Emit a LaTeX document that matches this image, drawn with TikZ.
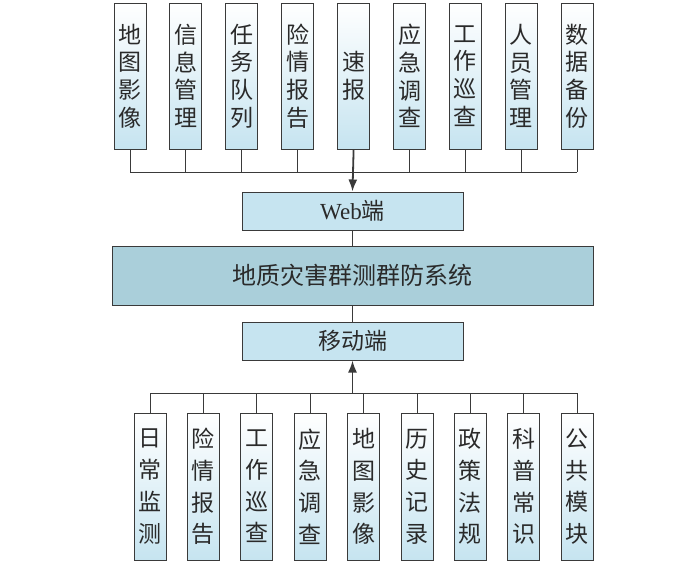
\documentclass[tikz,border=0pt]{standalone}
\usepackage{fontspec}
\setmainfont{Liberation Serif}
\newfontfamily\cjk{Noto Sans CJK SC}
\usetikzlibrary{arrows.meta,positioning}
\definecolor{boxblue}{HTML}{C6E4F0}
\definecolor{mainblue}{HTML}{AACFDA}
\definecolor{edgegray}{HTML}{3A3A3A}
\definecolor{textgray}{HTML}{2A2A2A}

\begin{document}
\begin{tikzpicture}[x=1pt,y=-1pt,
      mycol/.style={
         draw=edgegray,
         line width=1pt,
         top color=white,
         bottom color=boxblue,
         inner sep=0pt,
         minimum width=32pt,
         align=center,
         text=textgray},
      topcol/.style={mycol,
         minimum height=146pt,
         font=\cjk\fontsize{23}{27.7}\selectfont},
      botcol/.style={mycol,
         minimum height=147pt,
         font=\cjk\fontsize{23}{31.7}\selectfont},
      mybox/.style={
         draw=edgegray,
         line width=1pt,
         fill=boxblue,
         inner sep=0pt,
         minimum width=221pt,
         minimum height=38pt,
         text=textgray,
         font=\fontsize{23}{28}\selectfont},
      mainbox/.style={mybox,
         fill=mainblue,
         minimum width=481pt,
         minimum height=59pt,
         font=\cjk\fontsize{24}{28}\selectfont},
      myline/.style={draw=edgegray, line width=0.9pt},
      myarrow/.style={myline, line width=1.8pt, -{Latex[length=12pt,width=9pt]}}
      ]
      \useasboundingbox (0,0) rectangle (700,563);

      % middle
      \node[mybox] (web) at (352.5,211) {Web\cjk 端};
      \node[mainbox] (sys) at (352.5,275.5) {地质灾害群测群防系统};
      \node[mybox] (mob) at (352.5,341) {\cjk 移动端};
      \draw[myline] (web) -- (sys);
      \draw[myline] (sys) -- (mob);

      % web modules
      \coordinate (tbus) at (0,172);
      \foreach \txt [count=\n] in {地\\图\\影\\像, 信\\息\\管\\理, 任\\务\\队\\列,
         险\\情\\报\\告, 速\\报, 应\\急\\调\\查, 工\\作\\巡\\查, 人\\员\\管\\理, 数\\据\\备\\份}
      {
         \node[topcol] (t\n) at ({130+(\n-1)*55.9},76) {\txt};
         \draw[myline] (t\n.south) -- (t\n.south |- tbus);
      }
      \draw[myline] (t1.south |- tbus) -- (t9.south |- tbus);
      \draw[myarrow] (t5.south) -- (web.north);

      % mobile modules
      \coordinate (bbus) at (0,393);
      \foreach \txt [count=\n] in {日\\常\\监\\测, 险\\情\\报\\告, 工\\作\\巡\\查,
         应\\急\\调\\查, 地\\图\\影\\像, 历\\史\\记\\录, 政\\策\\法\\规, 科\\普\\常\\识, 公\\共\\模\\块}
      {
         \node[botcol] (b\n) at ({150+(\n-1)*53.4},486.5) {\txt};
         \draw[myline] (b\n.north) -- (b\n.north |- bbus);
      }
      \draw[myline] (b1.north |- bbus) -- (b9.north |- bbus);
      \draw[myarrow] (mob.south |- bbus) -- (mob.south);

\end{tikzpicture}
\end{document}
